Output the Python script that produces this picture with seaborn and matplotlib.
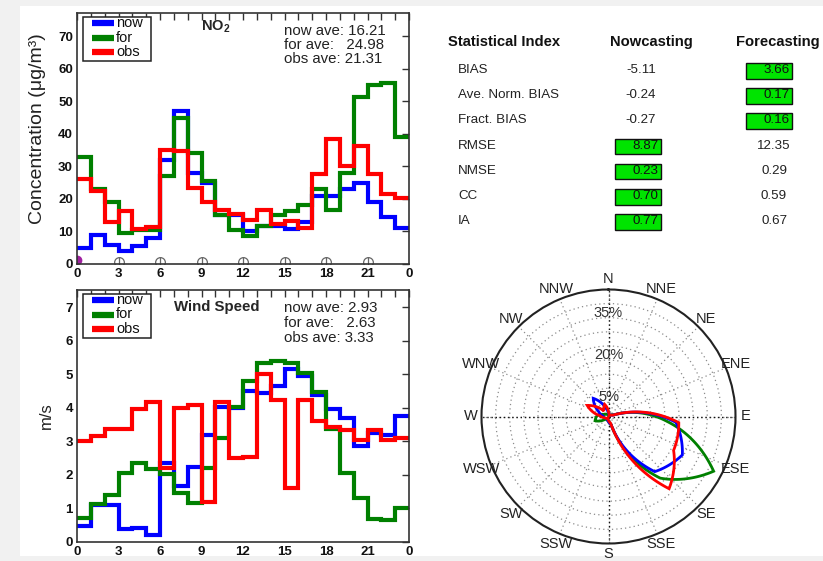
import numpy as np
import pandas as pd
import matplotlib
matplotlib.use("Agg")
import matplotlib.pyplot as plt
import seaborn as sns
from matplotlib.patches import Rectangle, PathPatch
from matplotlib.path import Path
from matplotlib.lines import Line2D

# ---------------------------------------------------------------- data
hours = list(range(24))
hour_ticks = [0, 3, 6, 9, 12, 15, 18, 21, 24]
hour_labels = ["0", "3", "6", "9", "12", "15", "18", "21", "0"]

no2_now = [5, 9, 5.7, 4.1, 5.4, 8, 32, 47, 28, 25, 15, 15, 10, 11.6, 11.6, 10.8,
           13, 21, 21, 23.2, 25, 19, 14.4, 11]
no2_for = [33, 23, 19, 9.5, 10.5, 10.5, 27, 45, 34, 25.4, 15.2, 10.5, 8.5, 11.6,
           15.2, 16.2, 18.2, 23, 16.7, 28, 51.4, 55, 55.6, 39]
no2_obs = [26, 22.6, 12.8, 16.4, 10.8, 11.4, 35.2, 34.7, 23.4, 19, 16.7, 15.5,
           13.6, 16.7, 12.3, 13.3, 11, 27.7, 38.3, 30, 36.4, 27.7, 21.6, 20.3]
no2_ave = [16.21, 24.98, 21.31]

ws_now = [0.48, 1.1, 1.1, 0.4, 0.43, 0.21, 2.35, 1.67, 2.25, 3.19, 4.04, 4.0,
          4.5, 4.44, 4.66, 5.16, 4.94, 4.39, 3.97, 3.7, 2.85, 3.25, 3.2, 3.76]
ws_for = [0.73, 1.13, 1.4, 2.05, 2.35, 2.17, 2.03, 1.45, 1.17, 2.2, 3.1, 4.04,
          4.79, 5.34, 5.4, 5.34, 5.04, 4.49, 3.37, 2.06, 1.31, 0.69, 0.65, 1.01]
ws_obs = [3.02, 3.16, 3.38, 3.36, 3.96, 4.19, 2.22, 4.0, 4.09, 1.2, 4.19, 2.5,
          2.55, 5.0, 4.24, 1.6, 4.24, 3.62, 3.44, 3.34, 3.04, 3.34, 3.04, 3.1]
ws_ave = [2.93, 2.63, 3.33]

wind_marker_hours = [3, 6, 9, 12, 15, 18, 21]

stat_names = ["BIAS", "Ave. Norm. BIAS", "Fract. BIAS", "RMSE", "NMSE", "CC", "IA"]
stat_now = [-5.11, -0.24, -0.27, 8.87, 0.23, 0.70, 0.77]
stat_for = [3.66, 0.17, 0.16, 12.35, 0.29, 0.59, 0.67]
stat_rule = ["abs", "abs", "abs", "low", "low", "high", "high"]

rose_dirs = ["N", "NNE", "NE", "ENE", "E", "ESE", "SE", "SSE",
             "S", "SSW", "SW", "WSW", "W", "WNW", "NW", "NNW"]
rose_now = [1.0, 0.5, 0.5, 1.5, 24, 29.5, 25.5, 3, 1.5, 1, 1, 1.5, 2, 4, 8.4, 3]
rose_for = [0.5, 0.5, 0.5, 2, 21, 42, 28.5, 3, 1.5, 1, 1.5, 5, 4, 1.5, 1, 0.5]
rose_obs = [1, 0.5, 0.5, 1.5, 25, 26, 33.4, 2.5, 1, 0.5, 1, 1.5, 3, 8.5, 2.5, 4.5]
rose_rings = [5, 10, 15, 20, 25, 30, 35, 40]
rose_ring_labels = [5, 20, 35]
rose_rmax = 45

series_names = ["now", "for", "obs"]
palette = {"now": "#0000ff", "for": "#008000", "obs": "#ff0000"}

# ---------------------------------------------------------------- style
sns.set_theme(style="white")
plt.rcParams["font.family"] = ["Liberation Sans", "DejaVu Sans"]
plt.rcParams["mathtext.fontset"] = "custom"
plt.rcParams["mathtext.rm"] = "Liberation Sans"
plt.rcParams["mathtext.bf"] = "Liberation Sans:bold"

W, H = 823, 561
fig = plt.figure(figsize=(W / 100, H / 100), dpi=100, facecolor="#f1f1f1")
fig.patches.append(Rectangle((20 / W, 5 / H), 803 / W, 550 / H,
                             transform=fig.transFigure, facecolor="white",
                             edgecolor="none", zorder=-10))

AX_LEFT, AX_W = 77, 332


def fx(x):
    return x / W


def fy(y):
    return 1 - y / H


def step_frame(values_by_series):
    frames = []
    for name, vals in zip(series_names, values_by_series):
        frames.append(pd.DataFrame({"hour": hours + [24],
                                    "value": list(vals) + [vals[-1]],
                                    "series": name}))
    return pd.concat(frames, ignore_index=True)


def key_box(ax, top_px, height_px):
    """Boxed series key in the upper-left corner, placed in pixel offsets."""
    def ax_x(px):
        return (px - AX_LEFT) / AX_W

    def ax_y(py):
        return 1 - (py - top_px) / height_px

    ax.add_patch(Rectangle((ax_x(83), ax_y(top_px + 48)), 68 / AX_W,
                           44 / height_px, transform=ax.transAxes,
                           facecolor="white", edgecolor="#222222", lw=1.1,
                           zorder=5))
    for k, name in enumerate(series_names):
        yy = ax_y(top_px + 10 + k * 14.5)
        ax.add_line(Line2D([ax_x(92), ax_x(114)], [yy, yy],
                           transform=ax.transAxes, color=palette[name],
                           lw=4.5, solid_capstyle="butt", zorder=6))
        ax.text(ax_x(116), yy, name, transform=ax.transAxes, fontsize=10.5,
                ha="left", va="center", color="#111111", zorder=6)


def style_time_axes(ax, ymax, yticks):
    ax.set_xlim(0, 24)
    ax.set_ylim(0, ymax)
    ax.set_xticks(hour_ticks)
    ax.set_xticklabels(hour_labels)
    ax.set_xticks(hours[1:], minor=True)
    ax.set_yticks(yticks)
    ax.set_xlabel("")
    ax.tick_params(which="both", direction="in", top=True, right=True,
                   color="#333333", width=1.0)
    ax.tick_params(which="major", length=5, labelsize=9.5, pad=3)
    ax.tick_params(which="minor", length=5)
    for lab in ax.get_xticklabels() + ax.get_yticklabels():
        lab.set_fontweight("bold")
        lab.set_color("#111111")
    for sp in ax.spines.values():
        sp.set_color("#333333")
        sp.set_linewidth(1.2)


def draw_steps(ax, values_by_series):
    df = step_frame(values_by_series)
    sns.lineplot(data=df, x="hour", y="value", hue="series",
                 hue_order=series_names, palette=palette,
                 drawstyle="steps-post", lw=3, estimator=None, sort=False,
                 legend=False, ax=ax, solid_joinstyle="miter")


def ave_text(ax, aves, top_px, axes_top, axes_h, spacing):
    txt = (f"now ave: {aves[0]:.2f}\nfor ave:   {aves[1]:.2f}\n"
           f"obs ave: {aves[2]:.2f}")
    ax.text((284 - AX_LEFT) / AX_W, 1 - (top_px - axes_top) / axes_h, txt,
            transform=ax.transAxes, fontsize=10.8, color="#222222",
            ha="left", va="top", linespacing=spacing)


# ---------------------------------------------------------------- NO2 panel
ax1 = fig.add_axes([fx(AX_LEFT), fy(264), AX_W / W, 251 / H])
draw_steps(ax1, [no2_now, no2_for, no2_obs])
style_time_axes(ax1, 77.2, [0, 10, 20, 30, 40, 50, 60, 70])
key_box(ax1, 13, 251)
ax1.set_ylabel("Concentration (\u03bcg/m\u00b3)", fontsize=14, color="#222222")
ax1.yaxis.set_label_coords(-0.092, 1 - (129 - 13) / 251)
ax1.text((216 - AX_LEFT) / AX_W, 1 - (27 - 13) / 251, r"NO$_\mathbf{2}$",
         transform=ax1.transAxes, fontsize=10.5, fontweight="bold",
         ha="center", va="center")
ave_text(ax1, no2_ave, 24, 13, 251, 1.02)
ax1.plot(wind_marker_hours, [0.5] * len(wind_marker_hours), ls="none",
         marker="o", ms=7, mfc="none", mec="#666666", mew=0.9)
ax1.plot(wind_marker_hours, [0.5] * len(wind_marker_hours), ls="none",
         marker="|", ms=7, mec="#666666", mew=0.9)
ax1.plot([0], [1.3], ls="none", marker="o", ms=6, color="#a020a0")

# ---------------------------------------------------------------- wind panel
ax2 = fig.add_axes([fx(AX_LEFT), fy(542), AX_W / W, 252 / H])
draw_steps(ax2, [ws_now, ws_for, ws_obs])
style_time_axes(ax2, 7.52, [0, 1, 2, 3, 4, 5, 6, 7])
key_box(ax2, 290, 252)
ax2.set_ylabel("m/s", fontsize=12, color="#222222")
ax2.yaxis.set_label_coords(-0.07, 0.5)
ax2.text((217 - AX_LEFT) / AX_W, 1 - (307.5 - 290) / 252, "Wind Speed",
         transform=ax2.transAxes, fontsize=10.8, fontweight="bold",
         ha="center", va="center")
ave_text(ax2, ws_ave, 301, 290, 252, 1.1)

# ---------------------------------------------------------------- table
fig.text(fx(448), fy(41.7), "Statistical Index", fontsize=10.6,
         fontweight="bold", ha="left", va="center", color="#111111")
fig.text(fx(651), fy(41.7), "Nowcasting", fontsize=10.6, fontweight="bold",
         ha="center", va="center", color="#111111")
fig.text(fx(778), fy(41.7), "Forecasting", fontsize=10.6, fontweight="bold",
         ha="center", va="center", color="#111111")

col_box_left = [615, 746]
box_w, box_h = 46, 15.5
for i, name in enumerate(stat_names):
    y = 70 + i * 25.2
    fig.text(fx(458), fy(y), name, fontsize=9.6, ha="left", va="center",
             color="#222222")
    a, b = stat_now[i], stat_for[i]
    if stat_rule[i] == "abs":
        best = 0 if abs(a) < abs(b) else 1
    elif stat_rule[i] == "low":
        best = 0 if a < b else 1
    else:
        best = 0 if a > b else 1
    for j, (val, cx) in enumerate(zip((a, b), (641, 774))):
        label = f"{val:.2f}"
        if j == best:
            x0 = col_box_left[j]
            fig.patches.append(Rectangle((fx(x0), fy(y + 0.8 + box_h / 2)),
                                         box_w / W, box_h / H,
                                         transform=fig.transFigure,
                                         facecolor="#00e400",
                                         edgecolor="#111111", lw=1.0,
                                         zorder=1))
            fig.text(fx(x0 + box_w - 2.5), fy(y), label, fontsize=9.6,
                     ha="right", va="center", color="#111111", zorder=2)
        else:
            fig.text(fx(cx), fy(y), label, fontsize=9.6, ha="center",
                     va="center", color="#222222")

# ---------------------------------------------------------------- wind rose
R = 127
cx, cy = 608.5, 416.5
pax = fig.add_axes([fx(cx - R), fy(cy + R), 2 * R / W, 2 * R / H],
                   projection="polar")
pax.set_theta_zero_location("N")
pax.set_theta_direction(-1)
pax.set_facecolor("none")
pax.set_rgrids(rose_rings, labels=[""] * len(rose_rings))
pax.set_thetagrids(np.arange(0, 360, 22.5), labels=[""] * 16)
pax.grid(True, color="#8c8c8c", ls=(0, (1, 2.5)), lw=0.9)
pax.set_ylim(0, rose_rmax)
for ang in (0, 90, 180, 270):
    pax.plot([np.deg2rad(ang)] * 2, [0, rose_rmax], color="#111111",
             ls=(0, (1, 2)), lw=1.0)
pax.spines["polar"].set_linewidth(1.5)
pax.spines["polar"].set_color("#222222")

theta = np.deg2rad(np.arange(16) * 22.5 + 5)
for vals, name in ((rose_for, "for"), (rose_now, "now"), (rose_obs, "obs")):
    verts = np.column_stack([np.append(theta, theta[0] + 2 * np.pi),
                             np.append(vals, vals[0])])
    path = Path(verts, _interpolation_steps=60)
    pax.add_patch(PathPatch(path, fill=False, edgecolor=palette[name],
                            lw=2.0, joinstyle="miter",
                            transform=pax.transData, zorder=3))

for k, lab in enumerate(rose_dirs):
    pax.text(np.deg2rad(k * 22.5), rose_rmax * 137.5 / R, lab, fontsize=10.5,
             ha="center", va="center", color="#222222", clip_on=False)
for r in rose_ring_labels:
    pax.text(0, r + 1.8, f"{r}%", fontsize=10.5, ha="center", va="center",
             color="#333333", zorder=4)

fig.savefig("out.png", dpi=100, facecolor=fig.get_facecolor())
